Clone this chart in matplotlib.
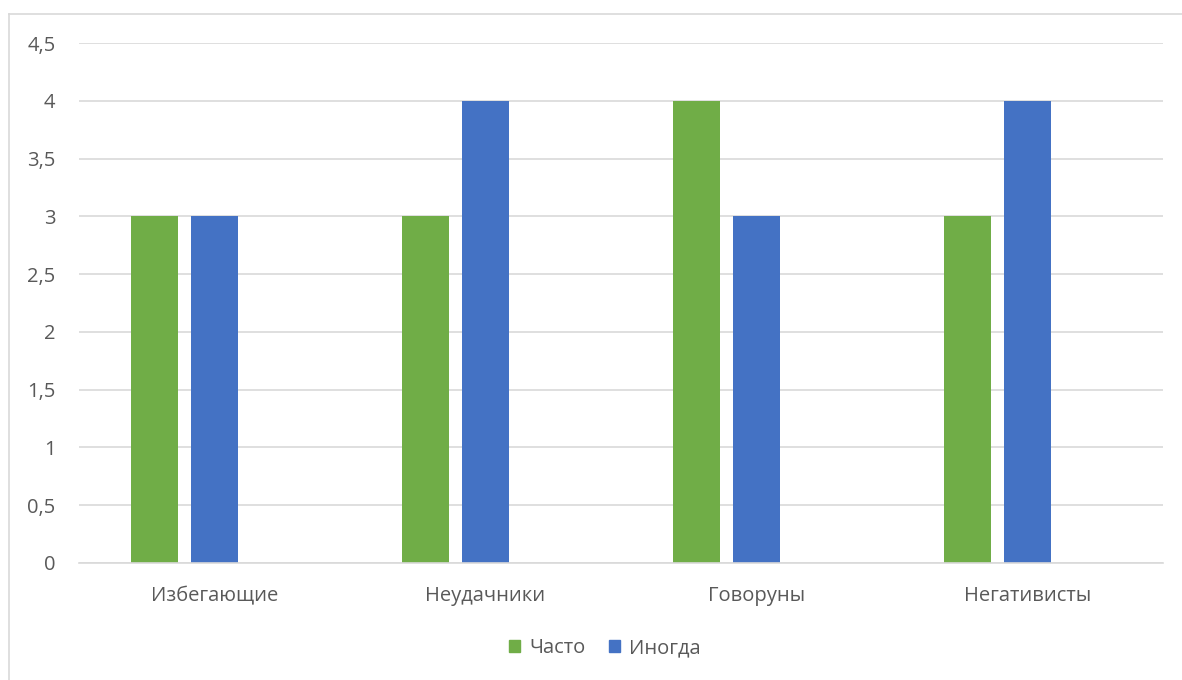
import numpy as np
from matplotlib import pyplot as plt
from matplotlib.lines import Line2D
from matplotlib.patches import Patch

categories = ["Избегающие", "Неудачники", "Говоруны", "Негативисты"]
often = [3, 3, 4, 3]
sometimes = [3, 4, 3, 4]
series_names = ["Часто", "Иногда"]
y_ticks = [0, 0.5, 1, 1.5, 2, 2.5, 3, 3.5, 4, 4.5]
y_labels = ["0", "0,5", "1", "1,5", "2", "2,5", "3", "3,5", "4", "4,5"]

plt.rcParams["font.family"] = ["Open Sans", "DejaVu Sans"]
text_color = "#595959"
grid_color = "#d9d9d9"

fig = plt.figure(figsize=(11.82, 6.8), dpi=100)
ax = fig.add_axes([79 / 1182, 1 - 563 / 680, 1084 / 1182, 520 / 680])

x = np.arange(len(categories))
width = 0.173
# clustered layout has a third (empty) slot, so the pair sits left of centre
ax.bar(x - 0.222, often, width, color="#70AD47", zorder=3)
ax.bar(x, sometimes, width, color="#4472C4", zorder=3)

ax.set_xlim(-0.5, len(categories) - 0.5)
ax.set_ylim(0, 4.5)
ax.set_yticks(y_ticks)
ax.set_yticklabels(y_labels)
ax.set_xticks(x)
ax.set_xticklabels(categories)
ax.tick_params(axis="both", length=0, colors=text_color, labelsize=14.5)
ax.tick_params(axis="x", pad=16.5)
ax.tick_params(axis="y", pad=17)
ax.yaxis.grid(True, color=grid_color, linewidth=1.2, zorder=0)
for s in ["top", "right", "left"]:
    ax.spines[s].set_visible(False)
ax.spines["bottom"].set_color(grid_color)
ax.spines["bottom"].set_linewidth(1.2)
ax.spines["bottom"].set_zorder(4)

handles = [Patch(color="#70AD47"), Patch(color="#4472C4")]
leg = fig.legend(handles, series_names, loc="center", bbox_to_anchor=(605 / 1182, 1 - 648 / 680),
                 ncol=2, frameon=False, handlelength=0.52, handleheight=0.52,
                 handletextpad=0.45, columnspacing=1.2, fontsize=14.5)
for t in leg.get_texts():
    t.set_color(text_color)

# chart-area border (left and top edges visible)
fig.add_artist(Line2D([8.5 / 1182, 8.5 / 1182], [0, 1 - 14 / 680], color=grid_color, linewidth=1.2))
fig.add_artist(Line2D([8.5 / 1182, 1], [1 - 14 / 680, 1 - 14 / 680], color=grid_color, linewidth=1.2))

fig.savefig("out.png", dpi=100)
